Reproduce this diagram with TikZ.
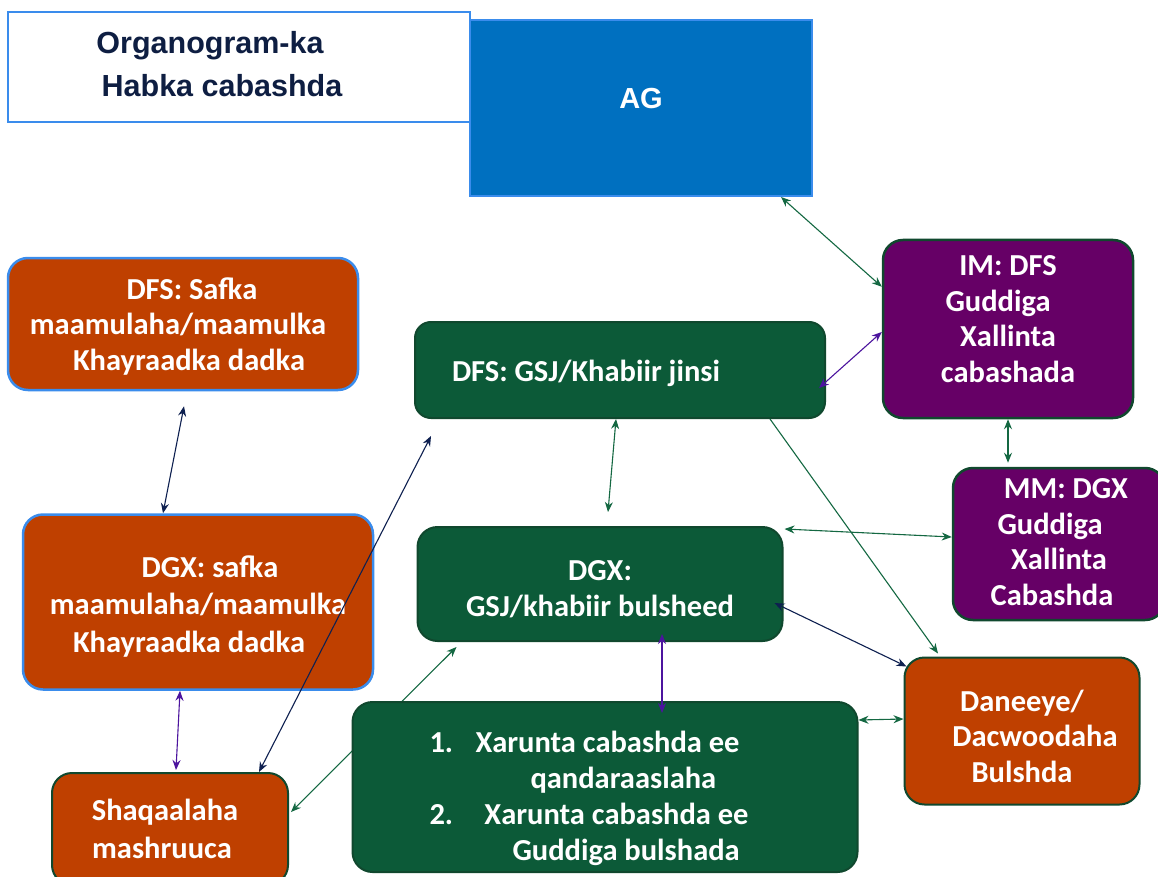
\documentclass[tikz,border=0pt]{standalone}
\usepackage{fontspec}
\setmainfont{Carlito}
\newfontfamily\arialfont{Liberation Sans}
\usetikzlibrary{arrows.meta}
\pgfdeclarelayer{background}
\pgfsetlayers{background,main}

\definecolor{boxorange}{RGB}{191,64,0}
\definecolor{boxgreen}{RGB}{12,90,56}
\definecolor{boxpurple}{RGB}{102,0,102}
\definecolor{agblue}{RGB}{0,112,192}
\definecolor{edgeblue}{RGB}{58,140,236}
\definecolor{edgegreen}{RGB}{16,72,46}
\definecolor{titlenavy}{RGB}{14,30,66}
\definecolor{linkgreen}{RGB}{20,104,66}
\definecolor{linknavy}{RGB}{14,32,80}
\definecolor{linkpurple}{RGB}{76,20,158}

% struts that push the text of a box down or up, and a line pushed left
\newcommand\lowerby[1]{\rule{0pt}{#1}}
\newcommand\liftby[1]{\rule[-#1]{0pt}{#1}}
\newcommand\leftby[2]{#2\hspace*{#1}\mbox{}}

\tikzset{
  unit/.style={rounded corners=20pt, line width=2pt, draw=edgegreen, text=white,
    font=\bfseries\frenchspacing\fontsize{30.5}{35.5}\selectfont, align=flush center, inner sep=0pt},
  orangeunit/.style={unit, fill=boxorange},
  greenunit/.style={unit, fill=boxgreen},
  purpleunit/.style={unit, fill=boxpurple, line width=2.5pt},
  link/.style={line width=1.1pt, {Stealth[length=10pt,width=8pt]}-{Stealth[length=10pt,width=8pt]}},
}

\begin{document}
\begin{tikzpicture}[x=1pt,y=-1pt]
  \clip (0,0) rectangle (1158,877);
  \begin{pgfonlayer}{background}
    \fill[white] (0,0) rectangle (1158,877);
  \end{pgfonlayer}

  \node[draw=edgeblue, line width=2.5pt, fill=white, text=titlenavy, align=center, inner sep=0pt,
    minimum width=462pt, minimum height=110pt, font=\arialfont\bfseries\fontsize{30.5}{43}\selectfont]
    (title) at (239,67) {Organogram-ka\hspace*{58pt}\\Habka cabashda\hspace*{34pt}\liftby{6pt}};
  \node[draw=edgeblue, line width=2pt, fill=agblue, text=white, inner sep=0pt,
    minimum width=342pt, minimum height=176pt, font=\arialfont\bfseries\fontsize{29}{35}\selectfont]
    (ag) at (641,108) {\raisebox{20pt}{AG}};

  \node[orangeunit, draw=edgeblue, line width=2.5pt, text width=350pt, minimum height=132pt]
    (safkadfs) at (183,324) {\lowerby{26pt}\hspace*{18pt}DFS: Safka\\\leftby{10pt}{maamulaha/maamulka}\\\hspace*{12pt}Khayraadka dadka};
  \node[orangeunit, draw=edgeblue, line width=2.5pt, text width=350pt, minimum height=175pt,
    font=\bfseries\frenchspacing\fontsize{30.5}{37.5}\selectfont]
    (safkadgx) at (198,602) {\lowerby{30pt}\hspace*{24pt}DGX: safka\\maamulaha/maamulka\\\leftby{18pt}{Khayraadka dadka}};
  \node[orangeunit, text width=236pt, minimum height=112pt,
    font=\bfseries\frenchspacing\fontsize{30.5}{38}\selectfont]
    (shaqaale) at (170,829) {\leftby{10pt}{Shaqaalaha}\\\leftby{16pt}{mashruuca}};
  \node[orangeunit, text width=235pt, minimum height=147pt]
    (daneeye) at (1022,731) {\lowerby{32pt}Daneeye/\\\hspace*{26pt}Dacwoodaha\\Bulshda};

  \node[greenunit, rounded corners=16pt, align=flush left, inner xsep=37pt, text width=336pt, minimum height=96pt]
    (gsjdfs) at (620,370) {\lowerby{29pt}DFS: GSJ/Khabiir jinsi};
  \node[greenunit, text width=365pt, minimum height=114pt]
    (gsjdgx) at (600,584) {\lowerby{30pt}DGX:\\GSJ/khabiir bulsheed};
  \node[greenunit, align=flush left, inner xsep=77pt, text width=351pt, minimum height=170pt,
    font=\bfseries\frenchspacing\fontsize{30.5}{36}\selectfont]
    (xarunta) at (605,787) {\lowerby{45pt}\makebox[46pt][l]{1.}Xarunta cabashda ee\\\hspace*{101pt}qandaraaslaha\\
      \makebox[55pt][l]{2.}Xarunta cabashda ee\\\hspace*{83pt}Guddiga bulshada};

  \node[purpleunit, text width=250pt, minimum height=178pt]
    (imdfs) at (1008,329) {IM: DFS\\\leftby{20pt}{Guddiga}\\Xallinta\\cabashada\liftby{20pt}};
  \node[purpleunit, text width=212pt, minimum height=152pt]
    (mmdgx) at (1059,544) {\hspace*{14pt}MM: DGX\\\leftby{18pt}{Guddiga}\\Xallinta\\\leftby{14pt}{Cabashda}\liftby{4pt}};

  % links between the units
  \draw[link, linkgreen] ([xshift=-32pt]ag.south east) -- ([yshift=-48pt]imdfs.north west);
  \draw[link, linkpurple] ([xshift=-7pt,yshift=-18pt]gsjdfs.east) -- ([yshift=-3pt]imdfs.west);
  \draw[link, linkgreen] (imdfs.south) -- ([xshift=-51pt,yshift=4pt]mmdgx.north);
  \draw[link, linknavy] ([xshift=1pt,yshift=-15pt]safkadfs.south) -- ([xshift=-35pt]safkadgx.north);
  \draw[link, linkgreen] ([xshift=-4pt]gsjdfs.south) -- ([xshift=8pt,yshift=14pt]gsjdgx.north);
  \draw[link, linkgreen] ([xshift=1pt,yshift=-3pt]gsjdgx.north east) -- ([yshift=7pt]mmdgx.west);
  \draw[link, linknavy] ([xshift=-9pt,yshift=-19pt]gsjdgx.east) -- ([xshift=3pt,yshift=-10pt]daneeye.north west);
  \draw[link, linkgreen, {Stealth[length=10pt,width=8pt]}-{}] ([xshift=-84pt,yshift=3pt]daneeye.north) -- ([xshift=150pt]gsjdfs.south);
  \draw[link, linkpurple] ([xshift=62pt,yshift=8pt]gsjdgx.south) -- ([xshift=57pt,yshift=-12pt]xarunta.north);
  \draw[link, linkgreen] ([yshift=-19pt]xarunta.north east) -- ([yshift=12pt]daneeye.west);
  \draw[link, linkpurple] ([xshift=-18pt]safkadgx.south) -- ([xshift=6pt,yshift=2pt]shaqaale.north);
  \draw[link, linknavy] ([xshift=-30pt]shaqaale.north east) -- ([xshift=17pt,yshift=-17pt]gsjdfs.south west);
  \begin{pgfonlayer}{background}
    \draw[link, linkgreen] ([xshift=2pt,yshift=17pt]shaqaale.east) -- ([xshift=40pt,yshift=-5pt]gsjdgx.south west);
  \end{pgfonlayer}
\end{tikzpicture}
\end{document}
